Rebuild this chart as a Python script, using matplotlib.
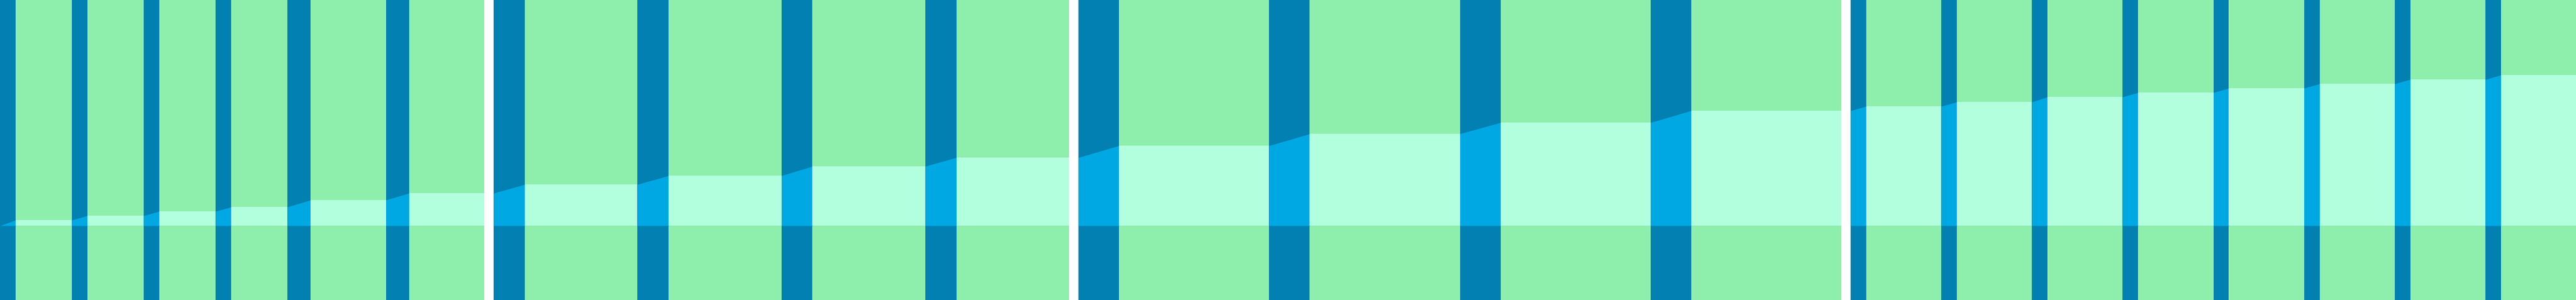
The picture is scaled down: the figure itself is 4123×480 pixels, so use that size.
import matplotlib
matplotlib.use("Agg")
import matplotlib.pyplot as plt

# Data: cumulative values for each panel (continuous sequence across panels)
panel_a = [9, 16, 23, 30]
panel_b = [41, 52]
panel_c = [66, 80, 95, 109]
panel_d = [128, 147, 165, 184]
panel_e = [191, 198, 206, 213, 220, 227, 234, 241]
panels = [panel_a, panel_b, panel_c, panel_d, panel_e]

# Styling / layout
GREEN = "#8EEEAC"
DARK = "#0180B1"
BRIGHT = "#00A8E3"
MINT = "#B2FFDE"
YMIN, YMAX = -119, 361
W, H = 4123, 480
# panel pixel extents (left, right) and gap fraction per slot
extents = [(0, 460), (460, 775), (790, 1711), (1726, 2947), (2962, 4123)]
gap_frac = [0.2174, 0.235, 0.217, 0.213, 0.172]

fig = plt.figure(figsize=(W / 100, H / 100), dpi=100)
fig.patch.set_facecolor("white")

prev = 0
for vals, (x0, x1), g in zip(panels, extents, gap_frac):
    ax = fig.add_axes([x0 / W, 0, (x1 - x0) / W, 1])
    ax.set_facecolor(GREEN)
    n = len(vals)
    for i, v in enumerate(vals):
        # dark gap column
        ax.bar(i, YMAX - YMIN, width=g, bottom=YMIN, align="edge",
               color=DARK, linewidth=0)
        # connector from previous value to current value
        ax.fill_between([i, i + g], [prev, v], [0, 0], color=BRIGHT,
                        linewidth=0)
        prev = v
    ax.bar([i + g for i in range(n)], vals, width=1 - g, align="edge",
           color=MINT, linewidth=0)
    ax.set_xlim(0, n)
    ax.set_ylim(YMIN, YMAX)
    ax.set_xticks([])
    ax.set_yticks([])
    for s in ax.spines.values():
        s.set_visible(False)

fig.savefig("out.png", dpi=100, facecolor="white")
